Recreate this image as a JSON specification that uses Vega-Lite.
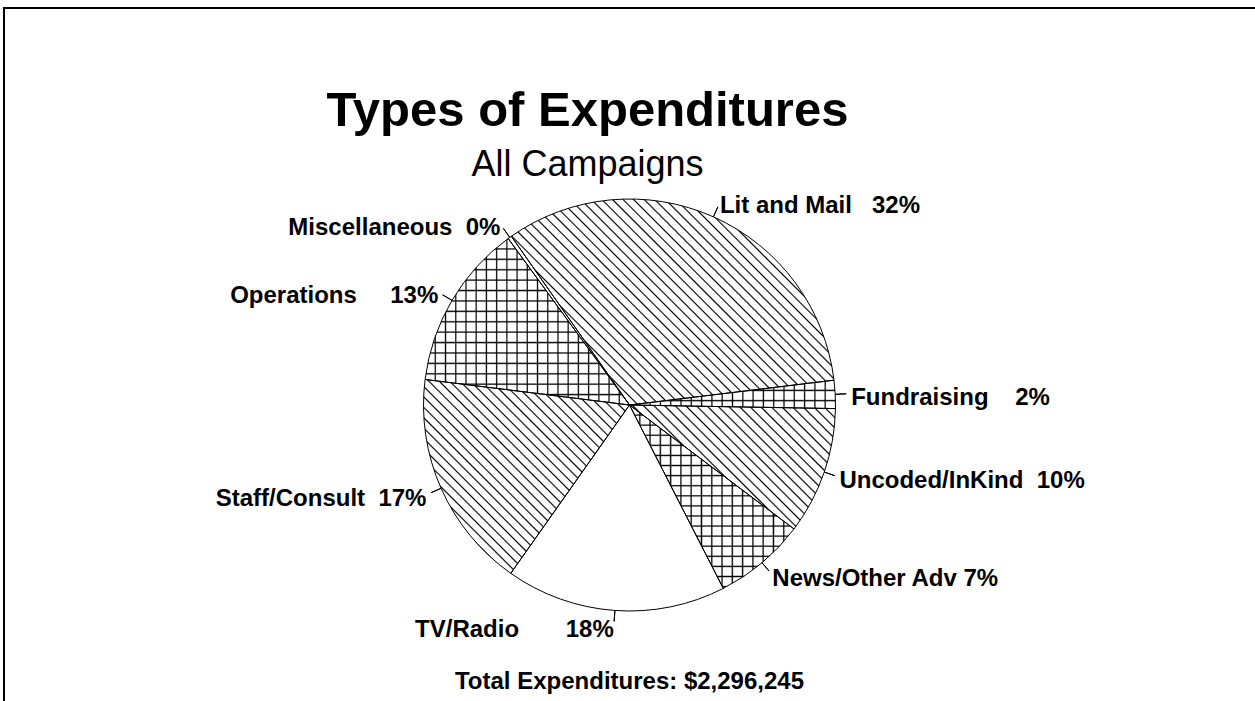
{
 "$schema": "https://vega.github.io/schema/vega-lite/v6.json",
 "width": 1255, "height": 701,
 "autosize": {"type": "fit", "contains": "padding"},
 "padding": {"left": 4, "top": 8, "right": 0, "bottom": -101},
 "background": "white",
 "view": {"stroke": "#000", "strokeWidth": 2, "strokeDash": [1251, 2100, 900, 0]},
 "config": {"text": {"font": "Liberation Sans", "color": "#000"}},
 "title": {"text": "Types of Expenditures", "subtitle": "All Campaigns", "anchor": "middle", "frame": "group", "offset": -175, "dx": -42,
   "font": "Liberation Sans", "fontSize": 49, "fontWeight": "bold", "color": "#000",
   "subtitleFont": "Liberation Sans", "subtitleFontSize": 36, "subtitleFontWeight": "normal", "subtitleColor": "#000", "subtitlePadding": 12},
 "data": {"values": [
   {"cat": "Lit and Mail", "label": "Lit and Mail\u00a0\u00a0\u00a032%", "value": 32.8, "order": 1},
   {"cat": "Fundraising", "label": "Fundraising\u00a0\u00a0\u00a0\u00a02%", "value": 2.2, "order": 2},
   {"cat": "Uncoded/InKind", "label": "Uncoded/InKind\u00a0\u00a010%", "value": 10.0, "order": 3},
   {"cat": "News/Other Adv", "label": "News/Other Adv 7%", "value": 7.2, "order": 4},
   {"cat": "TV/Radio", "label": "TV/Radio\u00a0\u00a0\u00a0\u00a0\u00a0\u00a0\u00a018%", "value": 17.3, "order": 5},
   {"cat": "Staff/Consult", "label": "Staff/Consult\u00a0\u00a017%", "value": 17.2, "order": 6},
   {"cat": "Operations", "label": "Operations\u00a0\u00a0\u00a0\u00a0\u00a013%", "value": 13.0, "order": 7},
   {"cat": "Miscellaneous", "label": "Miscellaneous\u00a0\u00a00%", "value": 0.3, "order": 8}
 ]},
 "layer": [
  {"mark": {"type": "arc", "outerRadius": 206, "fill": "white"},
   "encoding": {"theta": {"field": "value", "type": "quantitative", "stack": true, "scale": {"range": [-0.6109, 5.6723]}}, "order": {"field": "order", "type": "quantitative"}}},
  {"mark": {"type": "arc", "outerRadius": 206},
   "encoding": {"theta": {"field": "value", "type": "quantitative", "stack": true}, "order": {"field": "order", "type": "quantitative"},
    "fill": {"condition": [
     {"test": "datum.cat === 'Lit and Mail'", "value": {"gradient": "linear", "x1": 0, "y1": 1, "x2": 1.164, "y2": 0.257, "stops": [
      {"offset":0,"color":"transparent"},
      {"offset":0.017,"color":"transparent"},{"offset":0.02,"color":"#000"},{"offset":0.023,"color":"transparent"},
      {"offset":0.037,"color":"transparent"},{"offset":0.04,"color":"#000"},{"offset":0.043,"color":"transparent"},
      {"offset":0.057,"color":"transparent"},{"offset":0.06,"color":"#000"},{"offset":0.063,"color":"transparent"},
      {"offset":0.077,"color":"transparent"},{"offset":0.08,"color":"#000"},{"offset":0.083,"color":"transparent"},
      {"offset":0.097,"color":"transparent"},{"offset":0.1,"color":"#000"},{"offset":0.103,"color":"transparent"},
      {"offset":0.117,"color":"transparent"},{"offset":0.12,"color":"#000"},{"offset":0.123,"color":"transparent"},
      {"offset":0.137,"color":"transparent"},{"offset":0.14,"color":"#000"},{"offset":0.143,"color":"transparent"},
      {"offset":0.157,"color":"transparent"},{"offset":0.16,"color":"#000"},{"offset":0.163,"color":"transparent"},
      {"offset":0.177,"color":"transparent"},{"offset":0.18,"color":"#000"},{"offset":0.183,"color":"transparent"},
      {"offset":0.197,"color":"transparent"},{"offset":0.2,"color":"#000"},{"offset":0.203,"color":"transparent"},
      {"offset":0.217,"color":"transparent"},{"offset":0.22,"color":"#000"},{"offset":0.223,"color":"transparent"},
      {"offset":0.237,"color":"transparent"},{"offset":0.24,"color":"#000"},{"offset":0.243,"color":"transparent"},
      {"offset":0.257,"color":"transparent"},{"offset":0.26,"color":"#000"},{"offset":0.263,"color":"transparent"},
      {"offset":0.277,"color":"transparent"},{"offset":0.28,"color":"#000"},{"offset":0.283,"color":"transparent"},
      {"offset":0.297,"color":"transparent"},{"offset":0.3,"color":"#000"},{"offset":0.303,"color":"transparent"},
      {"offset":0.317,"color":"transparent"},{"offset":0.32,"color":"#000"},{"offset":0.323,"color":"transparent"},
      {"offset":0.337,"color":"transparent"},{"offset":0.34,"color":"#000"},{"offset":0.343,"color":"transparent"},
      {"offset":0.357,"color":"transparent"},{"offset":0.36,"color":"#000"},{"offset":0.363,"color":"transparent"},
      {"offset":0.377,"color":"transparent"},{"offset":0.38,"color":"#000"},{"offset":0.383,"color":"transparent"},
      {"offset":0.397,"color":"transparent"},{"offset":0.4,"color":"#000"},{"offset":0.403,"color":"transparent"},
      {"offset":0.417,"color":"transparent"},{"offset":0.42,"color":"#000"},{"offset":0.423,"color":"transparent"},
      {"offset":0.437,"color":"transparent"},{"offset":0.44,"color":"#000"},{"offset":0.443,"color":"transparent"},
      {"offset":0.457,"color":"transparent"},{"offset":0.46,"color":"#000"},{"offset":0.463,"color":"transparent"},
      {"offset":0.477,"color":"transparent"},{"offset":0.48,"color":"#000"},{"offset":0.483,"color":"transparent"},
      {"offset":0.497,"color":"transparent"},{"offset":0.5,"color":"#000"},{"offset":0.503,"color":"transparent"},
      {"offset":0.517,"color":"transparent"},{"offset":0.52,"color":"#000"},{"offset":0.523,"color":"transparent"},
      {"offset":0.537,"color":"transparent"},{"offset":0.54,"color":"#000"},{"offset":0.543,"color":"transparent"},
      {"offset":0.557,"color":"transparent"},{"offset":0.56,"color":"#000"},{"offset":0.563,"color":"transparent"},
      {"offset":0.577,"color":"transparent"},{"offset":0.58,"color":"#000"},{"offset":0.583,"color":"transparent"},
      {"offset":0.597,"color":"transparent"},{"offset":0.6,"color":"#000"},{"offset":0.603,"color":"transparent"},
      {"offset":0.617,"color":"transparent"},{"offset":0.62,"color":"#000"},{"offset":0.623,"color":"transparent"},
      {"offset":0.637,"color":"transparent"},{"offset":0.64,"color":"#000"},{"offset":0.643,"color":"transparent"},
      {"offset":0.657,"color":"transparent"},{"offset":0.66,"color":"#000"},{"offset":0.663,"color":"transparent"},
      {"offset":0.677,"color":"transparent"},{"offset":0.68,"color":"#000"},{"offset":0.683,"color":"transparent"},
      {"offset":0.697,"color":"transparent"},{"offset":0.7,"color":"#000"},{"offset":0.703,"color":"transparent"},
      {"offset":0.717,"color":"transparent"},{"offset":0.72,"color":"#000"},{"offset":0.723,"color":"transparent"},
      {"offset":0.737,"color":"transparent"},{"offset":0.74,"color":"#000"},{"offset":0.743,"color":"transparent"},
      {"offset":0.757,"color":"transparent"},{"offset":0.76,"color":"#000"},{"offset":0.763,"color":"transparent"},
      {"offset":0.777,"color":"transparent"},{"offset":0.78,"color":"#000"},{"offset":0.783,"color":"transparent"},
      {"offset":0.797,"color":"transparent"},{"offset":0.8,"color":"#000"},{"offset":0.803,"color":"transparent"},
      {"offset":0.817,"color":"transparent"},{"offset":0.82,"color":"#000"},{"offset":0.823,"color":"transparent"},
      {"offset":0.837,"color":"transparent"},{"offset":0.84,"color":"#000"},{"offset":0.843,"color":"transparent"},
      {"offset":0.857,"color":"transparent"},{"offset":0.86,"color":"#000"},{"offset":0.863,"color":"transparent"},
      {"offset":0.877,"color":"transparent"},{"offset":0.88,"color":"#000"},{"offset":0.883,"color":"transparent"},
      {"offset":0.897,"color":"transparent"},{"offset":0.9,"color":"#000"},{"offset":0.903,"color":"transparent"},
      {"offset":0.917,"color":"transparent"},{"offset":0.92,"color":"#000"},{"offset":0.923,"color":"transparent"},
      {"offset":0.937,"color":"transparent"},{"offset":0.94,"color":"#000"},{"offset":0.943,"color":"transparent"},
      {"offset":0.957,"color":"transparent"},{"offset":0.96,"color":"#000"},{"offset":0.963,"color":"transparent"},
      {"offset":0.977,"color":"transparent"},{"offset":0.98,"color":"#000"},{"offset":0.983,"color":"transparent"},
      {"offset":1,"color":"transparent"}]}},
     {"test": "datum.cat === 'Uncoded/InKind'", "value": {"gradient": "linear", "x1": 0, "y1": 1, "x2": 1.176, "y2": 0.292, "stops": [
      {"offset":0,"color":"transparent"},
      {"offset":0.027,"color":"transparent"},{"offset":0.032,"color":"#000"},{"offset":0.037,"color":"transparent"},
      {"offset":0.059,"color":"transparent"},{"offset":0.064,"color":"#000"},{"offset":0.069,"color":"transparent"},
      {"offset":0.091,"color":"transparent"},{"offset":0.096,"color":"#000"},{"offset":0.101,"color":"transparent"},
      {"offset":0.123,"color":"transparent"},{"offset":0.128,"color":"#000"},{"offset":0.133,"color":"transparent"},
      {"offset":0.155,"color":"transparent"},{"offset":0.16,"color":"#000"},{"offset":0.165,"color":"transparent"},
      {"offset":0.187,"color":"transparent"},{"offset":0.192,"color":"#000"},{"offset":0.197,"color":"transparent"},
      {"offset":0.219,"color":"transparent"},{"offset":0.224,"color":"#000"},{"offset":0.229,"color":"transparent"},
      {"offset":0.251,"color":"transparent"},{"offset":0.256,"color":"#000"},{"offset":0.261,"color":"transparent"},
      {"offset":0.283,"color":"transparent"},{"offset":0.288,"color":"#000"},{"offset":0.293,"color":"transparent"},
      {"offset":0.315,"color":"transparent"},{"offset":0.32,"color":"#000"},{"offset":0.325,"color":"transparent"},
      {"offset":0.347,"color":"transparent"},{"offset":0.352,"color":"#000"},{"offset":0.357,"color":"transparent"},
      {"offset":0.379,"color":"transparent"},{"offset":0.384,"color":"#000"},{"offset":0.389,"color":"transparent"},
      {"offset":0.411,"color":"transparent"},{"offset":0.416,"color":"#000"},{"offset":0.421,"color":"transparent"},
      {"offset":0.443,"color":"transparent"},{"offset":0.448,"color":"#000"},{"offset":0.453,"color":"transparent"},
      {"offset":0.475,"color":"transparent"},{"offset":0.48,"color":"#000"},{"offset":0.485,"color":"transparent"},
      {"offset":0.507,"color":"transparent"},{"offset":0.512,"color":"#000"},{"offset":0.517,"color":"transparent"},
      {"offset":0.539,"color":"transparent"},{"offset":0.544,"color":"#000"},{"offset":0.549,"color":"transparent"},
      {"offset":0.571,"color":"transparent"},{"offset":0.576,"color":"#000"},{"offset":0.581,"color":"transparent"},
      {"offset":0.603,"color":"transparent"},{"offset":0.608,"color":"#000"},{"offset":0.613,"color":"transparent"},
      {"offset":0.635,"color":"transparent"},{"offset":0.64,"color":"#000"},{"offset":0.645,"color":"transparent"},
      {"offset":0.667,"color":"transparent"},{"offset":0.672,"color":"#000"},{"offset":0.677,"color":"transparent"},
      {"offset":0.699,"color":"transparent"},{"offset":0.704,"color":"#000"},{"offset":0.709,"color":"transparent"},
      {"offset":0.731,"color":"transparent"},{"offset":0.736,"color":"#000"},{"offset":0.741,"color":"transparent"},
      {"offset":0.763,"color":"transparent"},{"offset":0.768,"color":"#000"},{"offset":0.773,"color":"transparent"},
      {"offset":0.795,"color":"transparent"},{"offset":0.8,"color":"#000"},{"offset":0.805,"color":"transparent"},
      {"offset":0.827,"color":"transparent"},{"offset":0.832,"color":"#000"},{"offset":0.837,"color":"transparent"},
      {"offset":0.859,"color":"transparent"},{"offset":0.864,"color":"#000"},{"offset":0.869,"color":"transparent"},
      {"offset":0.891,"color":"transparent"},{"offset":0.896,"color":"#000"},{"offset":0.901,"color":"transparent"},
      {"offset":0.923,"color":"transparent"},{"offset":0.928,"color":"#000"},{"offset":0.933,"color":"transparent"},
      {"offset":0.955,"color":"transparent"},{"offset":0.96,"color":"#000"},{"offset":0.965,"color":"transparent"},
      {"offset":0.987,"color":"transparent"},{"offset":0.992,"color":"#000"},{"offset":0.997,"color":"transparent"},
      {"offset":1,"color":"transparent"}]}},
     {"test": "datum.cat === 'Staff/Consult'", "value": {"gradient": "linear", "x1": 0, "y1": 1, "x2": 1.029, "y2": 0.031, "stops": [
      {"offset":0,"color":"transparent"},
      {"offset":0.022,"color":"transparent"},{"offset":0.026,"color":"#000"},{"offset":0.03,"color":"transparent"},
      {"offset":0.048,"color":"transparent"},{"offset":0.052,"color":"#000"},{"offset":0.056,"color":"transparent"},
      {"offset":0.074,"color":"transparent"},{"offset":0.078,"color":"#000"},{"offset":0.082,"color":"transparent"},
      {"offset":0.1,"color":"transparent"},{"offset":0.104,"color":"#000"},{"offset":0.108,"color":"transparent"},
      {"offset":0.126,"color":"transparent"},{"offset":0.13,"color":"#000"},{"offset":0.134,"color":"transparent"},
      {"offset":0.152,"color":"transparent"},{"offset":0.156,"color":"#000"},{"offset":0.16,"color":"transparent"},
      {"offset":0.178,"color":"transparent"},{"offset":0.182,"color":"#000"},{"offset":0.186,"color":"transparent"},
      {"offset":0.204,"color":"transparent"},{"offset":0.208,"color":"#000"},{"offset":0.212,"color":"transparent"},
      {"offset":0.23,"color":"transparent"},{"offset":0.234,"color":"#000"},{"offset":0.238,"color":"transparent"},
      {"offset":0.256,"color":"transparent"},{"offset":0.26,"color":"#000"},{"offset":0.264,"color":"transparent"},
      {"offset":0.282,"color":"transparent"},{"offset":0.286,"color":"#000"},{"offset":0.29,"color":"transparent"},
      {"offset":0.308,"color":"transparent"},{"offset":0.312,"color":"#000"},{"offset":0.316,"color":"transparent"},
      {"offset":0.334,"color":"transparent"},{"offset":0.338,"color":"#000"},{"offset":0.342,"color":"transparent"},
      {"offset":0.36,"color":"transparent"},{"offset":0.364,"color":"#000"},{"offset":0.368,"color":"transparent"},
      {"offset":0.386,"color":"transparent"},{"offset":0.39,"color":"#000"},{"offset":0.394,"color":"transparent"},
      {"offset":0.412,"color":"transparent"},{"offset":0.416,"color":"#000"},{"offset":0.42,"color":"transparent"},
      {"offset":0.438,"color":"transparent"},{"offset":0.442,"color":"#000"},{"offset":0.446,"color":"transparent"},
      {"offset":0.464,"color":"transparent"},{"offset":0.468,"color":"#000"},{"offset":0.472,"color":"transparent"},
      {"offset":0.49,"color":"transparent"},{"offset":0.494,"color":"#000"},{"offset":0.498,"color":"transparent"},
      {"offset":0.516,"color":"transparent"},{"offset":0.52,"color":"#000"},{"offset":0.524,"color":"transparent"},
      {"offset":0.542,"color":"transparent"},{"offset":0.546,"color":"#000"},{"offset":0.55,"color":"transparent"},
      {"offset":0.568,"color":"transparent"},{"offset":0.572,"color":"#000"},{"offset":0.576,"color":"transparent"},
      {"offset":0.594,"color":"transparent"},{"offset":0.598,"color":"#000"},{"offset":0.602,"color":"transparent"},
      {"offset":0.62,"color":"transparent"},{"offset":0.624,"color":"#000"},{"offset":0.628,"color":"transparent"},
      {"offset":0.646,"color":"transparent"},{"offset":0.65,"color":"#000"},{"offset":0.654,"color":"transparent"},
      {"offset":0.672,"color":"transparent"},{"offset":0.676,"color":"#000"},{"offset":0.68,"color":"transparent"},
      {"offset":0.698,"color":"transparent"},{"offset":0.702,"color":"#000"},{"offset":0.706,"color":"transparent"},
      {"offset":0.724,"color":"transparent"},{"offset":0.728,"color":"#000"},{"offset":0.732,"color":"transparent"},
      {"offset":0.75,"color":"transparent"},{"offset":0.754,"color":"#000"},{"offset":0.758,"color":"transparent"},
      {"offset":0.776,"color":"transparent"},{"offset":0.78,"color":"#000"},{"offset":0.784,"color":"transparent"},
      {"offset":0.802,"color":"transparent"},{"offset":0.806,"color":"#000"},{"offset":0.81,"color":"transparent"},
      {"offset":0.828,"color":"transparent"},{"offset":0.832,"color":"#000"},{"offset":0.836,"color":"transparent"},
      {"offset":0.854,"color":"transparent"},{"offset":0.858,"color":"#000"},{"offset":0.862,"color":"transparent"},
      {"offset":0.88,"color":"transparent"},{"offset":0.884,"color":"#000"},{"offset":0.888,"color":"transparent"},
      {"offset":0.906,"color":"transparent"},{"offset":0.91,"color":"#000"},{"offset":0.914,"color":"transparent"},
      {"offset":0.932,"color":"transparent"},{"offset":0.936,"color":"#000"},{"offset":0.94,"color":"transparent"},
      {"offset":0.958,"color":"transparent"},{"offset":0.962,"color":"#000"},{"offset":0.966,"color":"transparent"},
      {"offset":0.984,"color":"transparent"},{"offset":0.988,"color":"#000"},{"offset":0.992,"color":"transparent"},
      {"offset":1,"color":"transparent"}]}},
     {"test": "datum.cat === 'Operations'", "value": {"gradient": "linear", "x1": 0, "y1": 0, "x2": 0, "y2": 1, "stops": [
      {"offset":0,"color":"transparent"},
      {"offset":0.0545,"color":"transparent"},{"offset":0.0625,"color":"#000"},{"offset":0.0705,"color":"transparent"},
      {"offset":0.117,"color":"transparent"},{"offset":0.125,"color":"#000"},{"offset":0.133,"color":"transparent"},
      {"offset":0.1795,"color":"transparent"},{"offset":0.1875,"color":"#000"},{"offset":0.1955,"color":"transparent"},
      {"offset":0.242,"color":"transparent"},{"offset":0.25,"color":"#000"},{"offset":0.258,"color":"transparent"},
      {"offset":0.3045,"color":"transparent"},{"offset":0.3125,"color":"#000"},{"offset":0.3205,"color":"transparent"},
      {"offset":0.367,"color":"transparent"},{"offset":0.375,"color":"#000"},{"offset":0.383,"color":"transparent"},
      {"offset":0.4295,"color":"transparent"},{"offset":0.4375,"color":"#000"},{"offset":0.4455,"color":"transparent"},
      {"offset":0.492,"color":"transparent"},{"offset":0.5,"color":"#000"},{"offset":0.508,"color":"transparent"},
      {"offset":0.5545,"color":"transparent"},{"offset":0.5625,"color":"#000"},{"offset":0.5705,"color":"transparent"},
      {"offset":0.617,"color":"transparent"},{"offset":0.625,"color":"#000"},{"offset":0.633,"color":"transparent"},
      {"offset":0.6795,"color":"transparent"},{"offset":0.6875,"color":"#000"},{"offset":0.6955,"color":"transparent"},
      {"offset":0.742,"color":"transparent"},{"offset":0.75,"color":"#000"},{"offset":0.758,"color":"transparent"},
      {"offset":0.8045,"color":"transparent"},{"offset":0.8125,"color":"#000"},{"offset":0.8205,"color":"transparent"},
      {"offset":0.867,"color":"transparent"},{"offset":0.875,"color":"#000"},{"offset":0.883,"color":"transparent"},
      {"offset":0.9295,"color":"transparent"},{"offset":0.9375,"color":"#000"},{"offset":0.9455,"color":"transparent"},
      {"offset":1,"color":"transparent"}]}},
     {"test": "datum.cat === 'News/Other Adv'", "value": {"gradient": "linear", "x1": 0, "y1": 0, "x2": 0, "y2": 1, "stops": [
      {"offset":0,"color":"transparent"},
      {"offset":0.048,"color":"transparent"},{"offset":0.055,"color":"#000"},{"offset":0.062,"color":"transparent"},
      {"offset":0.103,"color":"transparent"},{"offset":0.11,"color":"#000"},{"offset":0.117,"color":"transparent"},
      {"offset":0.158,"color":"transparent"},{"offset":0.165,"color":"#000"},{"offset":0.172,"color":"transparent"},
      {"offset":0.213,"color":"transparent"},{"offset":0.22,"color":"#000"},{"offset":0.227,"color":"transparent"},
      {"offset":0.268,"color":"transparent"},{"offset":0.275,"color":"#000"},{"offset":0.282,"color":"transparent"},
      {"offset":0.323,"color":"transparent"},{"offset":0.33,"color":"#000"},{"offset":0.337,"color":"transparent"},
      {"offset":0.378,"color":"transparent"},{"offset":0.385,"color":"#000"},{"offset":0.392,"color":"transparent"},
      {"offset":0.433,"color":"transparent"},{"offset":0.44,"color":"#000"},{"offset":0.447,"color":"transparent"},
      {"offset":0.488,"color":"transparent"},{"offset":0.495,"color":"#000"},{"offset":0.502,"color":"transparent"},
      {"offset":0.543,"color":"transparent"},{"offset":0.55,"color":"#000"},{"offset":0.557,"color":"transparent"},
      {"offset":0.598,"color":"transparent"},{"offset":0.605,"color":"#000"},{"offset":0.612,"color":"transparent"},
      {"offset":0.653,"color":"transparent"},{"offset":0.66,"color":"#000"},{"offset":0.667,"color":"transparent"},
      {"offset":0.708,"color":"transparent"},{"offset":0.715,"color":"#000"},{"offset":0.722,"color":"transparent"},
      {"offset":0.763,"color":"transparent"},{"offset":0.77,"color":"#000"},{"offset":0.777,"color":"transparent"},
      {"offset":0.818,"color":"transparent"},{"offset":0.825,"color":"#000"},{"offset":0.832,"color":"transparent"},
      {"offset":0.873,"color":"transparent"},{"offset":0.88,"color":"#000"},{"offset":0.887,"color":"transparent"},
      {"offset":0.928,"color":"transparent"},{"offset":0.935,"color":"#000"},{"offset":0.942,"color":"transparent"},
      {"offset":0.983,"color":"transparent"},{"offset":0.99,"color":"#000"},{"offset":0.997,"color":"transparent"},
      {"offset":1,"color":"transparent"}]}},
     {"test": "datum.cat === 'Fundraising'", "value": {"gradient": "linear", "x1": 0, "y1": 0, "x2": 0, "y2": 1, "stops": [
      {"offset":0,"color":"transparent"},
      {"offset":0.314,"color":"transparent"},{"offset":0.36,"color":"#000"},{"offset":0.406,"color":"transparent"},
      {"offset":0.674,"color":"transparent"},{"offset":0.72,"color":"#000"},{"offset":0.766,"color":"transparent"},
      {"offset":1,"color":"transparent"}]}}
    ], "value": "transparent"}}},
  {"mark": {"type": "arc", "outerRadius": 206},
   "encoding": {"theta": {"field": "value", "type": "quantitative", "stack": true}, "order": {"field": "order", "type": "quantitative"},
    "fill": {"condition": [
     {"test": "datum.cat === 'Operations' || datum.cat === 'Fundraising'", "value": {"gradient": "linear", "x1": 0, "y1": 0, "x2": 1, "y2": 0, "stops": [
      {"offset":0,"color":"transparent"},
      {"offset":0.044,"color":"transparent"},{"offset":0.05,"color":"#000"},{"offset":0.056,"color":"transparent"},
      {"offset":0.094,"color":"transparent"},{"offset":0.1,"color":"#000"},{"offset":0.106,"color":"transparent"},
      {"offset":0.144,"color":"transparent"},{"offset":0.15,"color":"#000"},{"offset":0.156,"color":"transparent"},
      {"offset":0.194,"color":"transparent"},{"offset":0.2,"color":"#000"},{"offset":0.206,"color":"transparent"},
      {"offset":0.244,"color":"transparent"},{"offset":0.25,"color":"#000"},{"offset":0.256,"color":"transparent"},
      {"offset":0.294,"color":"transparent"},{"offset":0.3,"color":"#000"},{"offset":0.306,"color":"transparent"},
      {"offset":0.344,"color":"transparent"},{"offset":0.35,"color":"#000"},{"offset":0.356,"color":"transparent"},
      {"offset":0.394,"color":"transparent"},{"offset":0.4,"color":"#000"},{"offset":0.406,"color":"transparent"},
      {"offset":0.444,"color":"transparent"},{"offset":0.45,"color":"#000"},{"offset":0.456,"color":"transparent"},
      {"offset":0.494,"color":"transparent"},{"offset":0.5,"color":"#000"},{"offset":0.506,"color":"transparent"},
      {"offset":0.544,"color":"transparent"},{"offset":0.55,"color":"#000"},{"offset":0.556,"color":"transparent"},
      {"offset":0.594,"color":"transparent"},{"offset":0.6,"color":"#000"},{"offset":0.606,"color":"transparent"},
      {"offset":0.644,"color":"transparent"},{"offset":0.65,"color":"#000"},{"offset":0.656,"color":"transparent"},
      {"offset":0.694,"color":"transparent"},{"offset":0.7,"color":"#000"},{"offset":0.706,"color":"transparent"},
      {"offset":0.744,"color":"transparent"},{"offset":0.75,"color":"#000"},{"offset":0.756,"color":"transparent"},
      {"offset":0.794,"color":"transparent"},{"offset":0.8,"color":"#000"},{"offset":0.806,"color":"transparent"},
      {"offset":0.844,"color":"transparent"},{"offset":0.85,"color":"#000"},{"offset":0.856,"color":"transparent"},
      {"offset":0.894,"color":"transparent"},{"offset":0.9,"color":"#000"},{"offset":0.906,"color":"transparent"},
      {"offset":0.944,"color":"transparent"},{"offset":0.95,"color":"#000"},{"offset":0.956,"color":"transparent"},
      {"offset":1,"color":"transparent"}]}},
     {"test": "datum.cat === 'News/Other Adv'", "value": {"gradient": "linear", "x1": 0, "y1": 0, "x2": 1, "y2": 0, "stops": [
      {"offset":0,"color":"transparent"},
      {"offset":0.0545,"color":"transparent"},{"offset":0.0625,"color":"#000"},{"offset":0.0705,"color":"transparent"},
      {"offset":0.117,"color":"transparent"},{"offset":0.125,"color":"#000"},{"offset":0.133,"color":"transparent"},
      {"offset":0.1795,"color":"transparent"},{"offset":0.1875,"color":"#000"},{"offset":0.1955,"color":"transparent"},
      {"offset":0.242,"color":"transparent"},{"offset":0.25,"color":"#000"},{"offset":0.258,"color":"transparent"},
      {"offset":0.3045,"color":"transparent"},{"offset":0.3125,"color":"#000"},{"offset":0.3205,"color":"transparent"},
      {"offset":0.367,"color":"transparent"},{"offset":0.375,"color":"#000"},{"offset":0.383,"color":"transparent"},
      {"offset":0.4295,"color":"transparent"},{"offset":0.4375,"color":"#000"},{"offset":0.4455,"color":"transparent"},
      {"offset":0.492,"color":"transparent"},{"offset":0.5,"color":"#000"},{"offset":0.508,"color":"transparent"},
      {"offset":0.5545,"color":"transparent"},{"offset":0.5625,"color":"#000"},{"offset":0.5705,"color":"transparent"},
      {"offset":0.617,"color":"transparent"},{"offset":0.625,"color":"#000"},{"offset":0.633,"color":"transparent"},
      {"offset":0.6795,"color":"transparent"},{"offset":0.6875,"color":"#000"},{"offset":0.6955,"color":"transparent"},
      {"offset":0.742,"color":"transparent"},{"offset":0.75,"color":"#000"},{"offset":0.758,"color":"transparent"},
      {"offset":0.8045,"color":"transparent"},{"offset":0.8125,"color":"#000"},{"offset":0.8205,"color":"transparent"},
      {"offset":0.867,"color":"transparent"},{"offset":0.875,"color":"#000"},{"offset":0.883,"color":"transparent"},
      {"offset":0.9295,"color":"transparent"},{"offset":0.9375,"color":"#000"},{"offset":0.9455,"color":"transparent"},
      {"offset":1,"color":"transparent"}]}}
    ], "value": "transparent"}}},
  {"mark": {"type": "arc", "outerRadius": 206, "fill": "transparent", "stroke": "#000", "strokeWidth": 1},
   "encoding": {"theta": {"field": "value", "type": "quantitative", "stack": true}, "order": {"field": "order", "type": "quantitative"}}},
  {"mark": {"type": "arc", "innerRadius": 206, "outerRadius": 217, "padAngle": 3.1416, "fill": "transparent", "stroke": "#000", "strokeWidth": 1},
   "encoding": {"theta": {"field": "value", "type": "quantitative", "stack": true}, "order": {"field": "order", "type": "quantitative"}}},
  {"mark": {"type": "text", "radius": 222, "dy": 4, "align": "left", "baseline": "middle", "fontSize": 24, "fontWeight": "bold", "font": "Liberation Sans", "color": "#000"},
   "encoding": {"theta": {"field": "value", "type": "quantitative", "stack": true}, "order": {"field": "order", "type": "quantitative"},
    "text": {"condition": {"test": "datum.order <= 4", "field": "label", "type": "nominal"}, "value": ""}}},
  {"mark": {"type": "text", "radius": 222, "dy": 4, "align": "right", "baseline": "middle", "fontSize": 24, "fontWeight": "bold", "font": "Liberation Sans", "color": "#000"},
   "encoding": {"theta": {"field": "value", "type": "quantitative", "stack": true}, "order": {"field": "order", "type": "quantitative"},
    "text": {"condition": {"test": "datum.order > 4", "field": "label", "type": "nominal"}, "value": ""}}},
  {"data": {"values": [{"t": "Total Expenditures: $2,296,245"}]},
   "mark": {"type": "text", "theta": 3.1416, "radius": 277, "align": "center", "baseline": "middle", "fontSize": 24, "fontWeight": "bold", "font": "Liberation Sans", "color": "#000"},
   "encoding": {"text": {"field": "t", "type": "nominal"}}}
 ]
}
